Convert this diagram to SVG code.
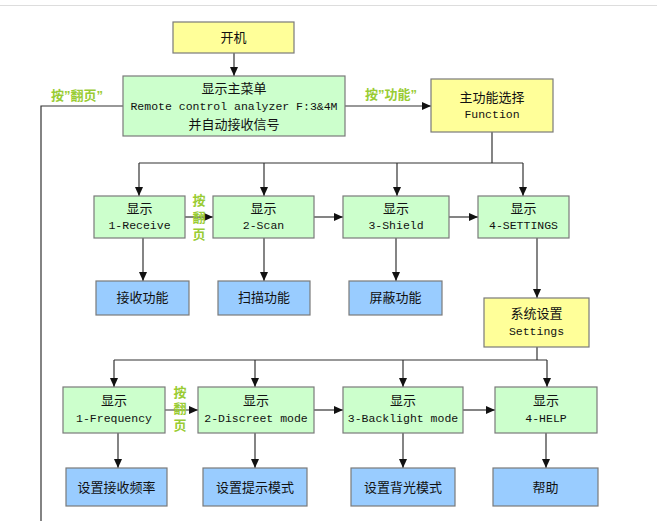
<svg xmlns="http://www.w3.org/2000/svg" width="657" height="521" viewBox="0 0 657 521">
<style>
.box{stroke:#7a7a7a;stroke-width:1.2}
.y{fill:#ffff99}.g{fill:#ccffcc}.b{fill:#99ccff}
.cj{font-family:"Noto Sans CJK SC","Liberation Sans",sans-serif;font-size:13px;fill:#111;text-anchor:middle}
.en{font-family:"Liberation Mono","Noto Sans CJK SC",monospace;font-size:11.5px;fill:#111;text-anchor:middle}
.lbl{font-family:"Noto Sans CJK SC","Liberation Sans",sans-serif;font-size:13px;font-weight:bold;fill:#99cc33;text-anchor:middle}
.q{font-family:"Liberation Sans",sans-serif}
.vt{writing-mode:vertical-rl;letter-spacing:4px}
.c{stroke:#333;stroke-width:1.2;fill:none}
</style>
<defs>
<marker id="ah" markerWidth="10" markerHeight="8" refX="9" refY="4" orient="auto" markerUnits="userSpaceOnUse">
<path d="M0,0 L9,4 L0,8 Z" fill="#111"/>
</marker>
</defs>
<rect width="657" height="521" fill="#fff"/>
<line x1="0" y1="5.5" x2="657" y2="5.5" stroke="#dddddd" stroke-width="1"/>
<g id="connectors">
<line class="c" x1="234" y1="53" x2="234" y2="76" marker-end="url(#ah)"/>
<path class="c" d="M123,106 H41 V521"/>
<line class="c" x1="345" y1="106" x2="431" y2="106" marker-end="url(#ah)"/>
<path class="c" d="M492,132 V163"/>
<path class="c" d="M139,163 H523"/>
<line class="c" x1="139" y1="163" x2="139" y2="196" marker-end="url(#ah)"/>
<line class="c" x1="264" y1="163" x2="264" y2="196" marker-end="url(#ah)"/>
<line class="c" x1="397" y1="163" x2="397" y2="196" marker-end="url(#ah)"/>
<line class="c" x1="523" y1="163" x2="523" y2="196" marker-end="url(#ah)"/>
<line class="c" x1="185" y1="217" x2="213" y2="217" marker-end="url(#ah)"/>
<line class="c" x1="314" y1="217" x2="343" y2="217" marker-end="url(#ah)"/>
<line class="c" x1="449" y1="217" x2="478" y2="217" marker-end="url(#ah)"/>
<line class="c" x1="143" y1="238" x2="143" y2="281" marker-end="url(#ah)"/>
<line class="c" x1="264" y1="238" x2="264" y2="281" marker-end="url(#ah)"/>
<line class="c" x1="396" y1="238" x2="396" y2="281" marker-end="url(#ah)"/>
<line class="c" x1="537" y1="238" x2="537" y2="298" marker-end="url(#ah)"/>
<path class="c" d="M537,347 V360"/>
<path class="c" d="M114,360 H547"/>
<line class="c" x1="114" y1="360" x2="114" y2="387" marker-end="url(#ah)"/>
<line class="c" x1="255" y1="360" x2="255" y2="387" marker-end="url(#ah)"/>
<line class="c" x1="403" y1="360" x2="403" y2="387" marker-end="url(#ah)"/>
<line class="c" x1="547" y1="360" x2="547" y2="387" marker-end="url(#ah)"/>
<line class="c" x1="165" y1="410" x2="198" y2="410" marker-end="url(#ah)"/>
<line class="c" x1="314" y1="410" x2="343" y2="410" marker-end="url(#ah)"/>
<line class="c" x1="463" y1="410" x2="495" y2="410" marker-end="url(#ah)"/>
<line class="c" x1="118" y1="433" x2="118" y2="468" marker-end="url(#ah)"/>
<line class="c" x1="255" y1="433" x2="255" y2="468" marker-end="url(#ah)"/>
<line class="c" x1="403" y1="433" x2="403" y2="468" marker-end="url(#ah)"/>
<line class="c" x1="546" y1="433" x2="546" y2="468" marker-end="url(#ah)"/>
<text class="lbl" x="77" y="100">按<tspan class="q">”</tspan>翻页<tspan class="q">”</tspan></text>
<text class="lbl" x="391" y="99">按<tspan class="q">”</tspan>功能<tspan class="q">”</tspan></text>
<text class="lbl vt" x="199" y="219">按翻页</text>
<text class="lbl vt" x="180" y="410" style="letter-spacing:3.5px">按翻页</text>
</g>
<g id="power"><rect class="box y" x="173" y="22" width="121" height="31"/><text class="cj" x="233.5" y="42">开机</text></g>
<g id="mainmenu"><rect class="box g" x="123" y="76" width="222" height="60"/>
<text class="cj" x="234" y="93">显示主菜单</text>
<text class="en" x="234" y="110">Remote control analyzer F:3&amp;4M</text>
<text class="cj" x="234" y="129">并自动接收信号</text></g>
<g id="function"><rect class="box y" x="431" y="79" width="122" height="53"/>
<text class="cj" x="492" y="102">主功能选择</text>
<text class="en" x="492" y="118">Function</text></g>
<g id="receive"><rect class="box g" x="94" y="196" width="91" height="42"/><text class="cj" x="139.5" y="213">显示</text><text class="en" x="139.5" y="229">1-Receive</text></g>
<g id="scan"><rect class="box g" x="213" y="196" width="101" height="42"/><text class="cj" x="263.5" y="213">显示</text><text class="en" x="263.5" y="229">2-Scan</text></g>
<g id="shield"><rect class="box g" x="343" y="196" width="106" height="42"/><text class="cj" x="396" y="213">显示</text><text class="en" x="396" y="229">3-Shield</text></g>
<g id="settingsmenu"><rect class="box g" x="478" y="196" width="91" height="42"/><text class="cj" x="523.5" y="213">显示</text><text class="en" x="523.5" y="229">4-SETTINGS</text></g>
<g id="recvfn"><rect class="box b" x="96" y="281" width="93" height="34"/><text class="cj" x="142.5" y="302">接收功能</text></g>
<g id="scanfn"><rect class="box b" x="218" y="281" width="92" height="34"/><text class="cj" x="264" y="302">扫描功能</text></g>
<g id="shieldfn"><rect class="box b" x="349" y="281" width="93" height="34"/><text class="cj" x="395.5" y="302">屏蔽功能</text></g>
<g id="settings"><rect class="box y" x="484" y="298" width="105" height="49"/>
<text class="cj" x="536.5" y="318">系统设置</text>
<text class="en" x="536.5" y="335">Settings</text></g>
<g id="frequency"><rect class="box g" x="63" y="387" width="102" height="46"/><text class="cj" x="114" y="405">显示</text><text class="en" x="114" y="422">1-Frequency</text></g>
<g id="discreet"><rect class="box g" x="198" y="387" width="116" height="46"/><text class="cj" x="256" y="405">显示</text><text class="en" x="256" y="422">2-Discreet mode</text></g>
<g id="backlight"><rect class="box g" x="343" y="387" width="120" height="46"/><text class="cj" x="403" y="405">显示</text><text class="en" x="403" y="422">3-Backlight mode</text></g>
<g id="help"><rect class="box g" x="495" y="387" width="102" height="46"/><text class="cj" x="546" y="405">显示</text><text class="en" x="546" y="422">4-HELP</text></g>
<g id="setfreq"><rect class="box b" x="66" y="468" width="101" height="38"/><text class="cj" x="116.5" y="492">设置接收频率</text></g>
<g id="setprompt"><rect class="box b" x="203" y="468" width="104" height="38"/><text class="cj" x="255" y="492">设置提示模式</text></g>
<g id="setbacklight"><rect class="box b" x="351" y="468" width="104" height="38"/><text class="cj" x="403" y="492">设置背光模式</text></g>
<g id="helpfn"><rect class="box b" x="493" y="468" width="105" height="38"/><text class="cj" x="545.5" y="492">帮助</text></g>
</svg>
